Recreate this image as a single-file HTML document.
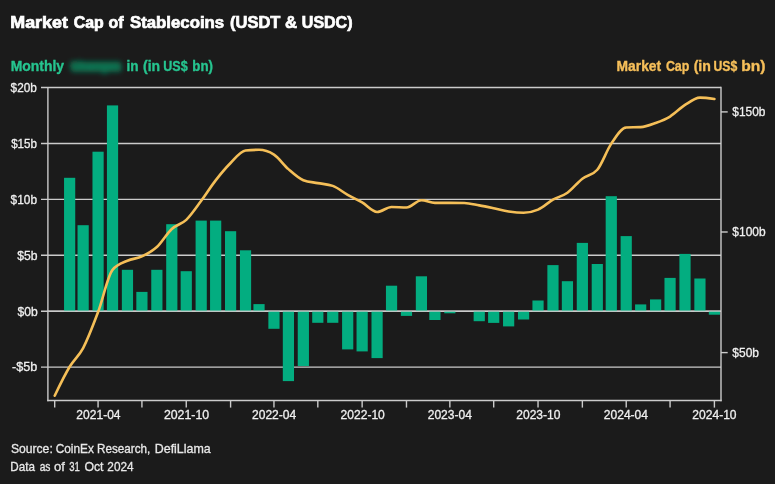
<!DOCTYPE html>
<html><head><meta charset="utf-8"><title>Market Cap of Stablecoins</title>
<style>
html,body{margin:0;padding:0;background:#1b1b1b;}
body{width:775px;height:484px;overflow:hidden;}
svg{display:block;font-family:"Liberation Sans", sans-serif;will-change:transform;}
</style></head>
<body>
<svg width="775" height="484" viewBox="0 0 775 484">
<defs><filter id="blur" x="-20%" y="-80%" width="140%" height="260%"><feGaussianBlur stdDeviation="2.4"/></filter></defs>
<rect width="775" height="484" fill="#1b1b1b"/>
<line x1="41" y1="87.5" x2="721" y2="87.5" stroke="#cbcbcb" stroke-width="1.4"/>
<line x1="41" y1="143.5" x2="721" y2="143.5" stroke="#cbcbcb" stroke-width="1.4"/>
<line x1="41" y1="199.4" x2="721" y2="199.4" stroke="#cbcbcb" stroke-width="1.4"/>
<line x1="41" y1="255.3" x2="721" y2="255.3" stroke="#cbcbcb" stroke-width="1.4"/>
<line x1="41" y1="311.2" x2="721" y2="311.2" stroke="#cbcbcb" stroke-width="1.4"/>
<line x1="41" y1="367.1" x2="721" y2="367.1" stroke="#cbcbcb" stroke-width="1.4"/>
<line x1="47.9" y1="87.5" x2="47.9" y2="401.2" stroke="#cbcbcb" stroke-width="1.4"/>
<line x1="721.0" y1="86.8" x2="721.0" y2="401.2" stroke="#cbcbcb" stroke-width="1.4"/>
<line x1="47.2" y1="400.5" x2="721.7" y2="400.5" stroke="#cbcbcb" stroke-width="1.4"/>
<line x1="54.70" y1="400.5" x2="54.70" y2="407.6" stroke="#cbcbcb" stroke-width="1.4"/>
<line x1="98.07" y1="400.5" x2="98.07" y2="407.6" stroke="#cbcbcb" stroke-width="1.4"/>
<line x1="141.92" y1="400.5" x2="141.92" y2="407.6" stroke="#cbcbcb" stroke-width="1.4"/>
<line x1="186.25" y1="400.5" x2="186.25" y2="407.6" stroke="#cbcbcb" stroke-width="1.4"/>
<line x1="230.59" y1="400.5" x2="230.59" y2="407.6" stroke="#cbcbcb" stroke-width="1.4"/>
<line x1="273.96" y1="400.5" x2="273.96" y2="407.6" stroke="#cbcbcb" stroke-width="1.4"/>
<line x1="317.81" y1="400.5" x2="317.81" y2="407.6" stroke="#cbcbcb" stroke-width="1.4"/>
<line x1="362.14" y1="400.5" x2="362.14" y2="407.6" stroke="#cbcbcb" stroke-width="1.4"/>
<line x1="406.48" y1="400.5" x2="406.48" y2="407.6" stroke="#cbcbcb" stroke-width="1.4"/>
<line x1="449.85" y1="400.5" x2="449.85" y2="407.6" stroke="#cbcbcb" stroke-width="1.4"/>
<line x1="493.70" y1="400.5" x2="493.70" y2="407.6" stroke="#cbcbcb" stroke-width="1.4"/>
<line x1="538.03" y1="400.5" x2="538.03" y2="407.6" stroke="#cbcbcb" stroke-width="1.4"/>
<line x1="582.36" y1="400.5" x2="582.36" y2="407.6" stroke="#cbcbcb" stroke-width="1.4"/>
<line x1="626.22" y1="400.5" x2="626.22" y2="407.6" stroke="#cbcbcb" stroke-width="1.4"/>
<line x1="670.07" y1="400.5" x2="670.07" y2="407.6" stroke="#cbcbcb" stroke-width="1.4"/>
<line x1="714.40" y1="400.5" x2="714.40" y2="407.6" stroke="#cbcbcb" stroke-width="1.4"/>
<line x1="721" y1="111.9" x2="727.7" y2="111.9" stroke="#cbcbcb" stroke-width="1.4"/>
<line x1="721" y1="232.0" x2="727.7" y2="232.0" stroke="#cbcbcb" stroke-width="1.4"/>
<line x1="721" y1="352.6" x2="727.7" y2="352.6" stroke="#cbcbcb" stroke-width="1.4"/>
<rect x="64.04" y="177.80" width="11.2" height="133.40" fill="#03ad80"/>
<rect x="77.53" y="225.20" width="11.2" height="86.00" fill="#03ad80"/>
<rect x="92.47" y="151.70" width="11.2" height="159.50" fill="#03ad80"/>
<rect x="106.93" y="105.40" width="11.2" height="205.80" fill="#03ad80"/>
<rect x="121.86" y="269.80" width="11.2" height="41.40" fill="#03ad80"/>
<rect x="136.32" y="291.90" width="11.2" height="19.30" fill="#03ad80"/>
<rect x="151.26" y="269.80" width="11.2" height="41.40" fill="#03ad80"/>
<rect x="166.20" y="224.20" width="11.2" height="87.00" fill="#03ad80"/>
<rect x="180.65" y="271.20" width="11.2" height="40.00" fill="#03ad80"/>
<rect x="195.59" y="220.60" width="11.2" height="90.60" fill="#03ad80"/>
<rect x="210.05" y="220.60" width="11.2" height="90.60" fill="#03ad80"/>
<rect x="224.99" y="231.20" width="11.2" height="80.00" fill="#03ad80"/>
<rect x="239.93" y="250.30" width="11.2" height="60.90" fill="#03ad80"/>
<rect x="253.42" y="304.10" width="11.2" height="7.10" fill="#03ad80"/>
<rect x="268.36" y="311.20" width="11.2" height="17.60" fill="#03ad80"/>
<rect x="282.81" y="311.20" width="11.2" height="69.90" fill="#03ad80"/>
<rect x="297.75" y="311.20" width="11.2" height="54.80" fill="#03ad80"/>
<rect x="312.21" y="311.20" width="11.2" height="11.60" fill="#03ad80"/>
<rect x="327.15" y="311.20" width="11.2" height="11.60" fill="#03ad80"/>
<rect x="342.09" y="311.20" width="11.2" height="38.20" fill="#03ad80"/>
<rect x="356.54" y="311.20" width="11.2" height="40.20" fill="#03ad80"/>
<rect x="371.48" y="311.20" width="11.2" height="46.90" fill="#03ad80"/>
<rect x="385.94" y="285.70" width="11.2" height="25.50" fill="#03ad80"/>
<rect x="400.88" y="311.20" width="11.2" height="4.70" fill="#03ad80"/>
<rect x="415.81" y="276.30" width="11.2" height="34.90" fill="#03ad80"/>
<rect x="429.31" y="311.20" width="11.2" height="8.80" fill="#03ad80"/>
<rect x="444.25" y="311.20" width="11.2" height="2.10" fill="#03ad80"/>
<rect x="473.64" y="311.20" width="11.2" height="10.00" fill="#03ad80"/>
<rect x="488.10" y="311.20" width="11.2" height="11.70" fill="#03ad80"/>
<rect x="503.04" y="311.20" width="11.2" height="15.20" fill="#03ad80"/>
<rect x="517.97" y="311.20" width="11.2" height="8.30" fill="#03ad80"/>
<rect x="532.43" y="300.50" width="11.2" height="10.70" fill="#03ad80"/>
<rect x="547.37" y="265.10" width="11.2" height="46.10" fill="#03ad80"/>
<rect x="561.83" y="281.20" width="11.2" height="30.00" fill="#03ad80"/>
<rect x="576.76" y="242.90" width="11.2" height="68.30" fill="#03ad80"/>
<rect x="591.70" y="264.00" width="11.2" height="47.20" fill="#03ad80"/>
<rect x="605.68" y="196.20" width="11.2" height="115.00" fill="#03ad80"/>
<rect x="620.62" y="236.10" width="11.2" height="75.10" fill="#03ad80"/>
<rect x="635.07" y="304.40" width="11.2" height="6.80" fill="#03ad80"/>
<rect x="650.01" y="299.40" width="11.2" height="11.80" fill="#03ad80"/>
<rect x="664.47" y="277.90" width="11.2" height="33.30" fill="#03ad80"/>
<rect x="679.41" y="253.90" width="11.2" height="57.30" fill="#03ad80"/>
<rect x="694.34" y="278.50" width="11.2" height="32.70" fill="#03ad80"/>
<rect x="708.80" y="311.20" width="11.2" height="3.50" fill="#03ad80"/>
<line x1="48" y1="311.2" x2="721" y2="311.2" stroke="#cbcbcb" stroke-width="1.3" opacity="0.85"/>
<path d="M54.70,395.73C59.68,385.35,64.66,374.97,69.64,366.76C74.14,359.34,78.63,356.45,83.13,348.03C88.11,338.71,93.09,325.37,98.07,312.08C102.89,299.22,107.71,275.71,112.53,269.83C117.51,263.76,122.49,262.96,127.46,260.72C132.28,258.55,137.10,258.65,141.92,256.44C146.90,254.16,151.88,251.67,156.86,247.08C161.84,242.49,166.82,233.49,171.80,228.92C176.62,224.50,181.44,224.38,186.25,219.82C191.23,215.11,196.21,207.49,201.19,200.80C206.01,194.32,210.83,186.59,215.65,180.37C220.63,173.95,225.61,167.98,230.59,163.00C235.57,158.02,240.55,151.03,245.53,150.51C250.02,150.04,254.52,149.80,259.02,149.80C264.00,149.80,268.98,151.41,273.96,154.64C278.78,157.76,283.60,164.92,288.41,169.14C293.39,173.50,298.37,178.26,303.35,180.24C308.17,182.16,312.99,182.19,317.81,183.12C322.79,184.08,327.77,184.04,332.75,185.89C337.73,187.74,342.71,192.01,347.69,194.82C352.50,197.54,357.32,199.68,362.14,202.49C367.12,205.40,372.10,212.04,377.08,212.04C381.90,212.04,386.72,206.95,391.54,206.95C396.52,206.95,401.50,207.43,406.48,207.43C411.46,207.43,416.43,200.22,421.41,200.22C425.91,200.22,430.41,202.85,434.91,202.85C439.89,202.85,444.87,202.84,449.85,202.84C454.66,202.84,459.48,202.87,464.30,202.94C469.28,203.01,474.26,204.50,479.24,205.40C484.06,206.27,488.88,207.27,493.70,208.26C498.68,209.28,503.66,210.68,508.64,211.43C513.61,212.19,518.59,212.79,523.57,212.79C528.39,212.79,533.21,211.73,538.03,209.62C543.01,207.44,547.99,202.55,552.97,199.70C557.79,196.94,562.61,196.11,567.43,192.70C572.40,189.18,577.38,182.50,582.36,178.68C587.34,174.86,592.32,175.71,597.30,169.76C601.96,164.20,606.62,150.57,611.28,143.64C616.26,136.23,621.24,127.70,626.22,127.48C631.03,127.27,635.85,127.37,640.67,127.16C645.65,126.94,650.63,124.81,655.61,123.00C660.43,121.24,665.25,119.47,670.07,116.53C675.05,113.50,680.03,108.08,685.01,104.93C689.98,101.79,694.96,97.66,699.94,97.66C704.76,97.66,709.58,98.33,714.40,99.00" fill="none" stroke="#f5bf58" stroke-width="2.6" stroke-linecap="round" stroke-linejoin="round"/>
<text x="10.29" y="27.6" font-size="16.2" font-weight="bold" fill="#ffffff" text-anchor="start" id="t1" textLength="57.63" lengthAdjust="spacingAndGlyphs" stroke="#ffffff" stroke-width="0.7">Market</text>
<text x="73.75" y="27.6" font-size="16.2" font-weight="bold" fill="#ffffff" text-anchor="start" id="t2" textLength="30.03" lengthAdjust="spacingAndGlyphs" stroke="#ffffff" stroke-width="0.7">Cap</text>
<text x="108.47" y="27.6" font-size="16.2" font-weight="bold" fill="#ffffff" text-anchor="start" id="t3" textLength="15.01" lengthAdjust="spacingAndGlyphs" stroke="#ffffff" stroke-width="0.7">of</text>
<text x="130.00" y="27.6" font-size="16.2" font-weight="bold" fill="#ffffff" text-anchor="start" id="t4" textLength="94.21" lengthAdjust="spacingAndGlyphs" stroke="#ffffff" stroke-width="0.7">Stablecoins</text>
<text x="230.08" y="27.6" font-size="16.2" font-weight="bold" fill="#ffffff" text-anchor="start" id="t5" textLength="50.28" lengthAdjust="spacingAndGlyphs" stroke="#ffffff" stroke-width="0.7">(USDT</text>
<text x="285.00" y="27.6" font-size="16.2" font-weight="bold" fill="#ffffff" text-anchor="start" id="t6" textLength="12.06" lengthAdjust="spacingAndGlyphs" stroke="#ffffff" stroke-width="0.7">&amp;</text>
<text x="301.83" y="27.6" font-size="16.2" font-weight="bold" fill="#ffffff" text-anchor="start" id="t7" textLength="50.67" lengthAdjust="spacingAndGlyphs" stroke="#ffffff" stroke-width="0.7">USDC)</text>
<text x="10.70" y="71.0" font-size="13.75" font-weight="bold" fill="#26c48f" text-anchor="start" id="s1" textLength="53.42" lengthAdjust="spacingAndGlyphs" stroke="#26c48f" stroke-width="0.35">Monthly</text>
<text x="126.38" y="71.0" font-size="13.75" font-weight="bold" fill="#26c48f" text-anchor="start" id="s2" textLength="12.04" lengthAdjust="spacingAndGlyphs" stroke="#26c48f" stroke-width="0.35">in</text>
<text x="143.03" y="71.0" font-size="13.75" font-weight="bold" fill="#26c48f" text-anchor="start" id="s3" textLength="17.08" lengthAdjust="spacingAndGlyphs" stroke="#26c48f" stroke-width="0.35">(in</text>
<text x="163.30" y="71.0" font-size="13.75" font-weight="bold" fill="#26c48f" text-anchor="start" id="s4" textLength="24.31" lengthAdjust="spacingAndGlyphs" stroke="#26c48f" stroke-width="0.35">US$</text>
<text x="192.31" y="71.0" font-size="13.75" font-weight="bold" fill="#26c48f" text-anchor="start" id="s5" textLength="20.66" lengthAdjust="spacingAndGlyphs" stroke="#26c48f" stroke-width="0.35">bn)</text>
<text x="616.60" y="71.0" font-size="13.75" font-weight="bold" fill="#f6bf5a" text-anchor="start" id="r1" textLength="44.57" lengthAdjust="spacingAndGlyphs" stroke="#f6bf5a" stroke-width="0.35">Market</text>
<text x="665.92" y="71.0" font-size="13.75" font-weight="bold" fill="#f6bf5a" text-anchor="start" id="r2" textLength="23.45" lengthAdjust="spacingAndGlyphs" stroke="#f6bf5a" stroke-width="0.35">Cap</text>
<text x="693.66" y="71.0" font-size="13.75" font-weight="bold" fill="#f6bf5a" text-anchor="start" id="r3" textLength="17.25" lengthAdjust="spacingAndGlyphs" stroke="#f6bf5a" stroke-width="0.35">(in</text>
<text x="713.50" y="71.0" font-size="13.75" font-weight="bold" fill="#f6bf5a" text-anchor="start" id="r4" textLength="23.78" lengthAdjust="spacingAndGlyphs" stroke="#f6bf5a" stroke-width="0.35">US$</text>
<text x="741.15" y="71.0" font-size="13.75" font-weight="bold" fill="#f6bf5a" text-anchor="start" id="r5" textLength="24.30" lengthAdjust="spacingAndGlyphs" stroke="#f6bf5a" stroke-width="0.35">bn)</text>
<text x="10.90" y="453.2" font-size="13.0" font-weight="normal" fill="#e8e8e8" text-anchor="start" id="f1" textLength="41.87" lengthAdjust="spacingAndGlyphs" stroke="#e8e8e8" stroke-width="0.3">Source:</text>
<text x="55.68" y="453.2" font-size="13.0" font-weight="normal" fill="#e8e8e8" text-anchor="start" id="f2" textLength="38.21" lengthAdjust="spacingAndGlyphs" stroke="#e8e8e8" stroke-width="0.3">CoinEx</text>
<text x="97.00" y="453.2" font-size="13.0" font-weight="normal" fill="#e8e8e8" text-anchor="start" id="f3" textLength="53.25" lengthAdjust="spacingAndGlyphs" stroke="#e8e8e8" stroke-width="0.3">Research,</text>
<text x="154.71" y="453.2" font-size="13.0" font-weight="normal" fill="#e8e8e8" text-anchor="start" id="f4" textLength="56.08" lengthAdjust="spacingAndGlyphs" stroke="#e8e8e8" stroke-width="0.3">DefiLlama</text>
<text x="10.32" y="470.5" font-size="13.0" font-weight="normal" fill="#e8e8e8" text-anchor="start" id="g1" textLength="24.64" lengthAdjust="spacingAndGlyphs" stroke="#e8e8e8" stroke-width="0.3">Data</text>
<text x="39.68" y="470.5" font-size="13.0" font-weight="normal" fill="#e8e8e8" text-anchor="start" id="g2" textLength="10.82" lengthAdjust="spacingAndGlyphs" stroke="#e8e8e8" stroke-width="0.3">as</text>
<text x="54.00" y="470.5" font-size="13.0" font-weight="normal" fill="#e8e8e8" text-anchor="start" id="g3" textLength="10.86" lengthAdjust="spacingAndGlyphs" stroke="#e8e8e8" stroke-width="0.3">of</text>
<text x="69.25" y="470.5" font-size="13.0" font-weight="normal" fill="#e8e8e8" text-anchor="start" id="g4" textLength="10.62" lengthAdjust="spacingAndGlyphs" stroke="#e8e8e8" stroke-width="0.3">31</text>
<text x="84.40" y="470.5" font-size="13.0" font-weight="normal" fill="#e8e8e8" text-anchor="start" id="g5" textLength="19.14" lengthAdjust="spacingAndGlyphs" stroke="#e8e8e8" stroke-width="0.3">Oct</text>
<text x="107.35" y="470.5" font-size="13.0" font-weight="normal" fill="#e8e8e8" text-anchor="start" id="g6" textLength="26.26" lengthAdjust="spacingAndGlyphs" stroke="#e8e8e8" stroke-width="0.3">2024</text>
<text x="10.58" y="91.8" font-size="12.6" font-weight="normal" fill="#f0f0f0" text-anchor="start" id="y20" textLength="26.26" lengthAdjust="spacingAndGlyphs" stroke="#f0f0f0" stroke-width="0.3">$20b</text>
<text x="11.15" y="147.8" font-size="12.6" font-weight="normal" fill="#f0f0f0" text-anchor="start" id="y15" textLength="25.87" lengthAdjust="spacingAndGlyphs" stroke="#f0f0f0" stroke-width="0.3">$15b</text>
<text x="10.58" y="203.70000000000002" font-size="12.6" font-weight="normal" fill="#f0f0f0" text-anchor="start" id="y10" textLength="26.45" lengthAdjust="spacingAndGlyphs" stroke="#f0f0f0" stroke-width="0.3">$10b</text>
<text x="17.37" y="259.6" font-size="12.6" font-weight="normal" fill="#f0f0f0" text-anchor="start" id="y5" textLength="20.27" lengthAdjust="spacingAndGlyphs" stroke="#f0f0f0" stroke-width="0.3">$5b</text>
<text x="17.59" y="315.5" font-size="12.6" font-weight="normal" fill="#f0f0f0" text-anchor="start" id="y0" textLength="20.21" lengthAdjust="spacingAndGlyphs" stroke="#f0f0f0" stroke-width="0.3">$0b</text>
<text x="12.10" y="371.40000000000003" font-size="12.6" font-weight="normal" fill="#f0f0f0" text-anchor="start" id="ym5" textLength="25.22" lengthAdjust="spacingAndGlyphs" stroke="#f0f0f0" stroke-width="0.3">-$5b</text>
<text x="732.36" y="116.2" font-size="12.6" font-weight="normal" fill="#f0f0f0" text-anchor="start" id="r150" textLength="33.09" lengthAdjust="spacingAndGlyphs" stroke="#f0f0f0" stroke-width="0.3">$150b</text>
<text x="732.36" y="236.3" font-size="12.6" font-weight="normal" fill="#f0f0f0" text-anchor="start" id="r100" textLength="33.29" lengthAdjust="spacingAndGlyphs" stroke="#f0f0f0" stroke-width="0.3">$100b</text>
<text x="732.36" y="356.90000000000003" font-size="12.6" font-weight="normal" fill="#f0f0f0" text-anchor="start" id="r50" textLength="26.70" lengthAdjust="spacingAndGlyphs" stroke="#f0f0f0" stroke-width="0.3">$50b</text>
<text x="76.36" y="419.4" font-size="12.6" font-weight="normal" fill="#f0f0f0" text-anchor="start" id="x0" textLength="44.21" lengthAdjust="spacingAndGlyphs" stroke="#f0f0f0" stroke-width="0.3">2021-04</text>
<text x="163.88" y="419.4" font-size="12.6" font-weight="normal" fill="#f0f0f0" text-anchor="start" id="x1" textLength="45.29" lengthAdjust="spacingAndGlyphs" stroke="#f0f0f0" stroke-width="0.3">2021-10</text>
<text x="252.03" y="419.4" font-size="12.6" font-weight="normal" fill="#f0f0f0" text-anchor="start" id="x2" textLength="44.21" lengthAdjust="spacingAndGlyphs" stroke="#f0f0f0" stroke-width="0.3">2022-04</text>
<text x="340.57" y="419.4" font-size="12.6" font-weight="normal" fill="#f0f0f0" text-anchor="start" id="x3" textLength="44.26" lengthAdjust="spacingAndGlyphs" stroke="#f0f0f0" stroke-width="0.3">2022-10</text>
<text x="427.70" y="419.4" font-size="12.6" font-weight="normal" fill="#f0f0f0" text-anchor="start" id="x4" textLength="44.21" lengthAdjust="spacingAndGlyphs" stroke="#f0f0f0" stroke-width="0.3">2023-04</text>
<text x="516.24" y="419.4" font-size="12.6" font-weight="normal" fill="#f0f0f0" text-anchor="start" id="x5" textLength="44.21" lengthAdjust="spacingAndGlyphs" stroke="#f0f0f0" stroke-width="0.3">2023-10</text>
<text x="603.78" y="419.4" font-size="12.6" font-weight="normal" fill="#f0f0f0" text-anchor="start" id="x6" textLength="44.26" lengthAdjust="spacingAndGlyphs" stroke="#f0f0f0" stroke-width="0.3">2024-04</text>
<text x="692.37" y="419.4" font-size="12.6" font-weight="normal" fill="#f0f0f0" text-anchor="start" id="x7" textLength="44.21" lengthAdjust="spacingAndGlyphs" stroke="#f0f0f0" stroke-width="0.3">2024-10</text>
<g filter="url(#blur)"><rect x="71" y="61.5" width="50" height="10.5" rx="3" fill="#086649"/><text x="69.5" y="71.3" font-size="14.2" font-weight="bold" fill="#0a7a56" textLength="53" lengthAdjust="spacingAndGlyphs">Changes</text></g>
</svg>
</body></html>
